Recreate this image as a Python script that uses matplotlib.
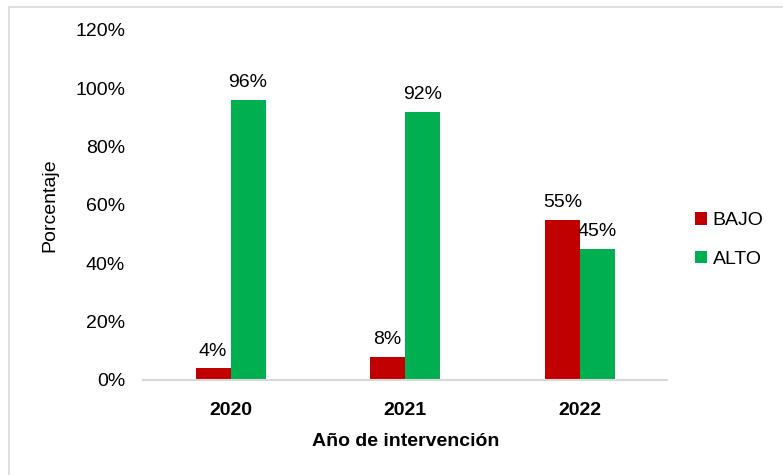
import numpy as np
import matplotlib.pyplot as plt
from matplotlib.patches import Rectangle

years = ["2020", "2021", "2022"]
bajo = [4, 8, 55]
alto = [96, 92, 45]
yticks = [0, 20, 40, 60, 80, 100, 120]

plt.rcParams['font.family'] = ['Liberation Sans', 'DejaVu Sans']
fs = 14

fig = plt.figure(figsize=(7.83, 4.75), dpi=100)
ax = fig.add_axes([0.183, 0.2, 0.669, 0.737])

# light frame around the whole chart
fig.patches.append(Rectangle((9 / 783, -0.02), 1.0, 1 - 7 / 475 + 0.02,
                             transform=fig.transFigure, fill=False,
                             edgecolor='#d9d9d9', linewidth=1.2))

x = np.arange(len(years))
w = 0.2
b1 = ax.bar(x - w / 2, bajo, w, color='#c00000', label='BAJO')
b2 = ax.bar(x + w / 2, alto, w, color='#00b050', label='ALTO')

for bars, vals in [(b1, bajo), (b2, alto)]:
    for r, v in zip(bars, vals):
        ax.text(r.get_x() + r.get_width() / 2, v + 3, f"{v}%",
                ha='center', va='bottom', fontsize=fs)

ax.set_xlim(-0.5, 2.5)
ax.set_ylim(0, 120)
ax.set_yticks(yticks)
ax.set_yticklabels([f"{t}%" for t in yticks], fontsize=fs)
ax.set_xticks(x)
ax.set_xticklabels(years, fontsize=fs, fontweight='bold')
ax.tick_params(axis='x', length=0, pad=16)
ax.tick_params(axis='y', length=0, pad=13)

for s in ['top', 'right', 'left']:
    ax.spines[s].set_visible(False)
ax.spines['bottom'].set_color('#d9d9d9')
ax.spines['bottom'].set_linewidth(1.5)

ax.set_xlabel("Año de intervención", fontsize=fs, fontweight='bold', labelpad=10)
ax.set_ylabel("Porcentaje", fontsize=fs, labelpad=12)

ax.legend(loc='center left', bbox_to_anchor=(1.02, 0.4), frameon=False,
          fontsize=fs, handlelength=0.6, handleheight=0.6, handletextpad=0.3,
          labelspacing=1.1)

fig.savefig("out.png", dpi=100)
